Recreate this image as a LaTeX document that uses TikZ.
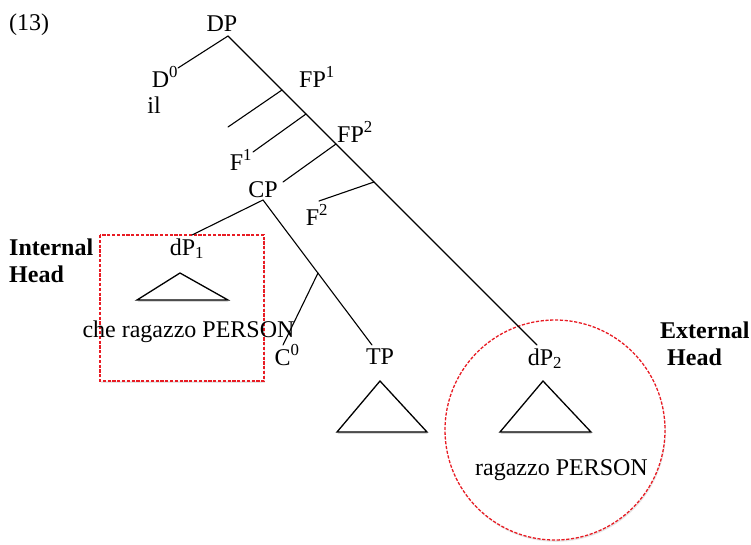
\documentclass[tikz,border=0pt]{standalone}
\usepackage{fontspec}
\setmainfont{Liberation Serif}
\usetikzlibrary{shadows}
\definecolor{headred}{RGB}{232,28,36}
\begin{document}
\begin{tikzpicture}[x=1pt,y=-1pt,
  every node/.style={font=\fontsize{24}{28}\selectfont, inner sep=0pt},
  lbl/.style={anchor=base},
  branch/.style={line width=1.1pt, line cap=round},
  roof/.style={line width=1.3pt, fill=white, line join=miter,
    drop shadow={shadow xshift=0.6pt, shadow yshift=-1.8pt, opacity=0.3}},
  headmark/.style={draw=headred, line width=1.3pt, dash pattern=on 3.2pt off 1.6pt,
    fill=white, drop shadow={shadow xshift=0.8pt, shadow yshift=-1.8pt, opacity=0.2}},
  headlbl/.style={font=\fontsize{24}{28}\selectfont\bfseries}]
\useasboundingbox (0,0) rectangle (751,544);

% highlighted heads
\draw[headmark] (100,235) rectangle (264,381);
\draw[headmark] (555,430) circle (110);

% labels
\node[anchor=base west] (ex) at (9,30) {(13)};
\node[lbl] (dp) at (222,31) {DP};
\node[lbl] (d0) at (165,87) {D\textsuperscript{0}};
\node[lbl] (il) at (154,113) {il};
\node[lbl] (fp1) at (317,87) {FP\textsuperscript{1}};
\node[lbl] (f1) at (241,170) {F\textsuperscript{1}};
\node[lbl] (fp2) at (355,142) {FP\textsuperscript{2}};
\node[lbl] (cp) at (263,197) {CP};
\node[lbl] (f2) at (317,225) {F\textsuperscript{2}};
\node[lbl] (dp1) at (187,255) {dP\textsubscript{1}};
\node[lbl] (che) at (188.5,337) {che ragazzo PERSON};
\node[lbl] (c0) at (287,365) {C\textsuperscript{0}};
\node[lbl] (tp) at (380,364) {TP};
\node[lbl] (dp2) at (545,365) {dP\textsubscript{2}};
\node[lbl] (rag) at (561.5,475) {ragazzo PERSON};
\node[headlbl, anchor=base west] (inthead) at (9,255) {Internal};
\node[headlbl, anchor=base west] (inthead2) at (9,282) {Head};
\node[headlbl, anchor=base west] (exthead) at (660,338) {External};
\node[headlbl, anchor=base west] (exthead2) at (667,365) {Head};

% tree joints and line ends
\coordinate (top) at (228,36);
\coordinate (d0end) at (178,68);
\coordinate (j1) at (282,90);
\coordinate (bare) at (228,127);
\coordinate (j2) at (306,114);
\coordinate (f1end) at (253,152);
\coordinate (j3) at (336,144);
\coordinate (cpend) at (283,182);
\coordinate (j4) at (374,182);
\coordinate (f2end) at (319,201);
\coordinate (cptop) at (263,200);
\coordinate (dp1end) at (192,235);
\coordinate (j5) at (318,273);
\coordinate (c0end) at (283,345);
\coordinate (tpend) at (372,345);
\coordinate (dp2end) at (537,345);

\draw[branch] (top) -- (d0end);
\draw[branch] (top) -- (dp2end);
\draw[branch] (j1) -- (bare);
\draw[branch] (j2) -- (f1end);
\draw[branch] (j3) -- (cpend);
\draw[branch] (j4) -- (f2end);
\draw[branch] (cptop) -- (dp1end);
\draw[branch] (cptop) -- (tpend);
\draw[branch] (j5) -- (c0end);

% roofs
\draw[roof] (180,273) -- (137,300) -- (228,300) -- cycle;
\draw[roof] (380,381) -- (337,432) -- (427,432) -- cycle;
\draw[roof] (543,381) -- (500,432) -- (591,432) -- cycle;
\end{tikzpicture}
\end{document}
